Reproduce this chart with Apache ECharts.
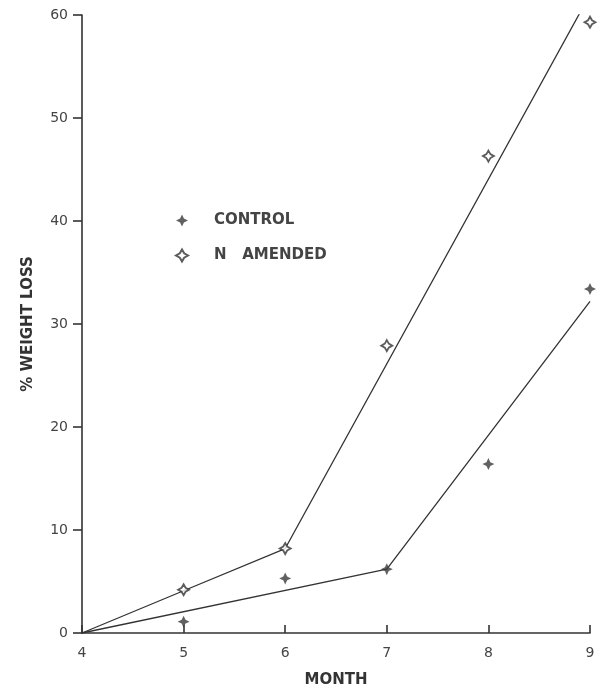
<!DOCTYPE html>
<html>
<head>
<meta charset="utf-8">
<script src="https://cdn.jsdelivr.net/npm/echarts@6/dist/echarts.min.js"></script>
<style>
  html, body { margin: 0; padding: 0; background: #fff; }
  #chart { width: 607px; height: 693px; }
</style>
</head>
<body>
<div id="chart"></div>
<script>
// Measured weight loss (%) by month
const months = [5, 6, 7, 8, 9];
const controlLoss = [1.1, 5.3, 6.2, 16.4, 33.4];
const amendedLoss = [4.2, 8.2, 27.9, 46.3, 59.3];

// Hand-fitted trend lines (month, % loss)
const controlFit = [[4, 0], [7, 6.2], [9, 32.2]];
const amendedFit = [[4, 0], [5, 4.1], [6, 8.2], [8.9, 60.2]];

const yTicks = [0, 10, 20, 30, 40, 50, 60];

const ink = '#333';
const fontFam = '"DejaVu Sans", "Noto Sans", sans-serif';

// Four-pointed star markers
const starFilled = 'path://M0,-10 L3.2,-3.2 L10,0 L3.2,3.2 L0,10 L-3.2,3.2 L-10,0 L-3.2,-3.2 Z';
const starHollow = 'path://M0,-10 L3.6,-3.6 L10,0 L3.6,3.6 L0,10 L-3.6,3.6 L-10,0 L-3.6,-3.6 Z';

const chart = echarts.init(document.getElementById('chart'));
chart.setOption({
  animation: false,
  backgroundColor: '#fff',
  grid: { left: 82, right: 17, top: 15, bottom: 60 },
  legend: {
    orient: 'vertical',
    left: 170,
    top: 208,
    itemGap: 20,
    itemWidth: 12,
    itemHeight: 12,
    data: [
      { name: 'CONTROL', icon: starFilled },
      { name: 'N   AMENDED', icon: starHollow }
    ],
    textStyle: {
      fontFamily: fontFam, fontWeight: 'bold', fontSize: 15, color: '#444',
      padding: [0, 0, 0, 21]
    }
  },
  xAxis: {
    type: 'value',
    min: 4, max: 9, interval: 1,
    name: 'MONTH',
    nameLocation: 'middle',
    nameGap: 40,
    nameTextStyle: { fontFamily: fontFam, fontWeight: 'bold', fontSize: 15, color: ink },
    axisLine: { lineStyle: { color: ink, width: 1.6 } },
    axisTick: { inside: true, length: 8, lineStyle: { color: ink, width: 1.6 } },
    axisLabel: { fontFamily: fontFam, fontSize: 14, color: '#444', margin: 13 },
    splitLine: { show: false }
  },
  yAxis: {
    type: 'value',
    min: 0, max: 60, interval: 10,
    data: yTicks,
    name: '% WEIGHT LOSS',
    nameLocation: 'middle',
    nameGap: 46,
    nameRotate: 90,
    nameTextStyle: { fontFamily: fontFam, fontWeight: 'bold', fontSize: 15, color: ink },
    axisLine: { show: true, lineStyle: { color: ink, width: 1.6 } },
    axisTick: { show: true, length: 9, lineStyle: { color: ink, width: 1.6 } },
    axisLabel: { fontFamily: fontFam, fontSize: 14, color: '#444', margin: 14 },
    splitLine: { show: false }
  },
  series: [
    {
      name: 'control fit', type: 'line', data: controlFit,
      symbol: 'none', lineStyle: { color: ink, width: 1.3 }, z: 2
    },
    {
      name: 'amended fit', type: 'line', data: amendedFit,
      symbol: 'none', lineStyle: { color: ink, width: 1.3 }, z: 2
    },
    {
      name: 'CONTROL', type: 'scatter',
      data: months.map((m, i) => [m, controlLoss[i]]),
      symbol: starFilled, symbolSize: 12,
      itemStyle: { color: '#3a3a3a' }, z: 5
    },
    {
      name: 'N   AMENDED', type: 'scatter',
      data: months.map((m, i) => [m, amendedLoss[i]]),
      symbol: starHollow, symbolSize: 11,
      itemStyle: { color: '#fff', borderColor: '#333', borderWidth: 1.8 }, z: 5
    }
  ]
});
</script>
</body>
</html>
